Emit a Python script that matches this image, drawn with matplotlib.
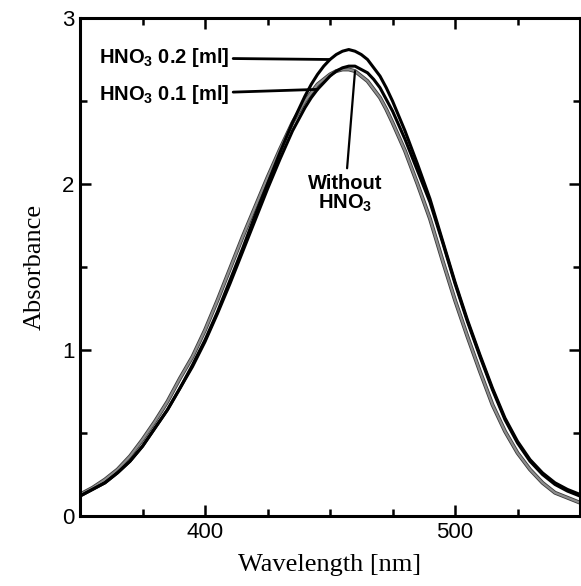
import matplotlib
matplotlib.use("Agg")
import matplotlib.pyplot as plt
import matplotlib.patheffects as pe
from matplotlib import font_manager
from matplotlib.ticker import MultipleLocator

# Prefer a condensed bold face for the curve labels when available
available = {f.name for f in font_manager.fontManager.ttflist}
label_family = "Liberation Sans Narrow" if "Liberation Sans Narrow" in available else "Liberation Sans"
label_size = 16.5 if label_family == "Liberation Sans Narrow" else 14.5

plt.rcParams["mathtext.fontset"] = "custom"
plt.rcParams["mathtext.rm"] = label_family
plt.rcParams["mathtext.bf"] = label_family + ":bold"

# Wavelength grid [nm] (finer around the band maximum)
wavelength = [350, 355, 360, 365, 370, 375, 380, 385, 390, 395,
              400, 405, 410, 415, 420, 425, 430, 435,
              440, 442.5, 445, 447.5, 450, 452.5, 455, 457.5, 460, 462.5,
              465, 467.5, 470, 472.5, 475,
              480, 485, 490, 495, 500, 505, 510, 515, 520, 525, 530,
              535, 540, 545, 550]

# Absorbance spectra
abs_hno3_02 = [0.12, 0.16, 0.20, 0.26, 0.33, 0.42, 0.53, 0.64, 0.77, 0.91,
               1.06, 1.23, 1.42, 1.61, 1.81, 2.00, 2.19, 2.37,
               2.53, 2.60, 2.66, 2.71, 2.75, 2.78, 2.80, 2.81, 2.80, 2.78,
               2.75, 2.70, 2.65, 2.58, 2.50,
               2.32, 2.12, 1.91, 1.66, 1.41, 1.18, 0.97, 0.77, 0.59, 0.45, 0.34,
               0.26, 0.20, 0.16, 0.13]

abs_hno3_01 = [0.12, 0.16, 0.20, 0.26, 0.33, 0.42, 0.53, 0.64, 0.77, 0.90,
               1.05, 1.22, 1.40, 1.59, 1.78, 1.97, 2.15, 2.32,
               2.46, 2.52, 2.57, 2.61, 2.65, 2.68, 2.70, 2.71, 2.71, 2.69,
               2.67, 2.63, 2.58, 2.51, 2.44,
               2.27, 2.08, 1.89, 1.65, 1.40, 1.17, 0.96, 0.76, 0.58, 0.44, 0.33,
               0.25, 0.19, 0.15, 0.12]

abs_without = [0.13, 0.17, 0.22, 0.28, 0.36, 0.46, 0.57, 0.69, 0.83, 0.96,
               1.12, 1.30, 1.49, 1.68, 1.86, 2.04, 2.21, 2.37,
               2.50, 2.55, 2.60, 2.63, 2.66, 2.68, 2.69, 2.69, 2.68, 2.65,
               2.62, 2.57, 2.52, 2.45, 2.37,
               2.20, 2.00, 1.79, 1.54, 1.30, 1.08, 0.87, 0.67, 0.51, 0.38, 0.28,
               0.20, 0.14, 0.11, 0.08]

x_ticks = [400, 500]
y_ticks = [0, 1, 2, 3]

fig = plt.figure(figsize=(5.81, 5.86), dpi=100)
ax = fig.add_axes([80 / 581, 1 - 516 / 586, 500 / 581, 498 / 586])

line_kw = dict(solid_joinstyle="round", solid_capstyle="round")
ax.plot(wavelength, abs_without, color="#8c8c8c", lw=1.6,
        path_effects=[pe.Stroke(linewidth=2.8, foreground="#3a3a3a"), pe.Normal()],
        zorder=2, **line_kw)
ax.plot(wavelength, abs_hno3_01, color="black", lw=2.2, zorder=3, **line_kw)
ax.plot(wavelength, abs_hno3_02, color="black", lw=2.2, zorder=4, **line_kw)

ax.set_xlim(350, 550)
ax.set_ylim(0, 3)
ax.set_xticks(x_ticks)
ax.set_yticks(y_ticks)
ax.xaxis.set_minor_locator(MultipleLocator(25))
ax.yaxis.set_minor_locator(MultipleLocator(0.5))
ax.tick_params(which="both", direction="in", top=True, right=True,
               width=1.8, labelsize=16, pad=4)
ax.tick_params(which="major", length=8)
ax.tick_params(which="minor", length=5)
for lab in ax.get_xticklabels() + ax.get_yticklabels():
    lab.set_family("Liberation Sans")
for s in ax.spines.values():
    s.set_linewidth(2.2)

ax.set_xlabel("Wavelength [nm]", family="Liberation Serif", fontsize=19, labelpad=8)
ax.set_ylabel("Absorbance", family="Liberation Serif", fontsize=19, labelpad=12)

ann = dict(family=label_family, fontweight="bold", fontsize=label_size)
i02 = wavelength.index(450)
i01 = wavelength.index(445)
iwo = wavelength.index(460)
ax.annotate(r"HNO$_{\mathbf{3}}$ 0.2 [ml]", xy=(wavelength[i02], abs_hno3_02[i02]),
            xytext=(409.6, 2.76), ha="right", va="center",
            arrowprops=dict(arrowstyle="-", lw=2.0, color="black", shrinkA=1, shrinkB=0),
            **ann)
ax.annotate(r"HNO$_{\mathbf{3}}$ 0.1 [ml]", xy=(wavelength[i01], abs_hno3_01[i01]),
            xytext=(409.6, 2.54), ha="right", va="center",
            arrowprops=dict(arrowstyle="-", lw=2.0, color="black", shrinkA=1, shrinkB=0),
            **ann)
ax.annotate("Without\n" + r"HNO$_{\mathbf{3}}$", xy=(wavelength[iwo], abs_without[iwo]),
            xytext=(456, 1.94), ha="center", va="center", linespacing=1.0,
            arrowprops=dict(arrowstyle="-", lw=1.6, color="black", shrinkA=2, shrinkB=0),
            **ann)

fig.savefig("out.png", dpi=100)
